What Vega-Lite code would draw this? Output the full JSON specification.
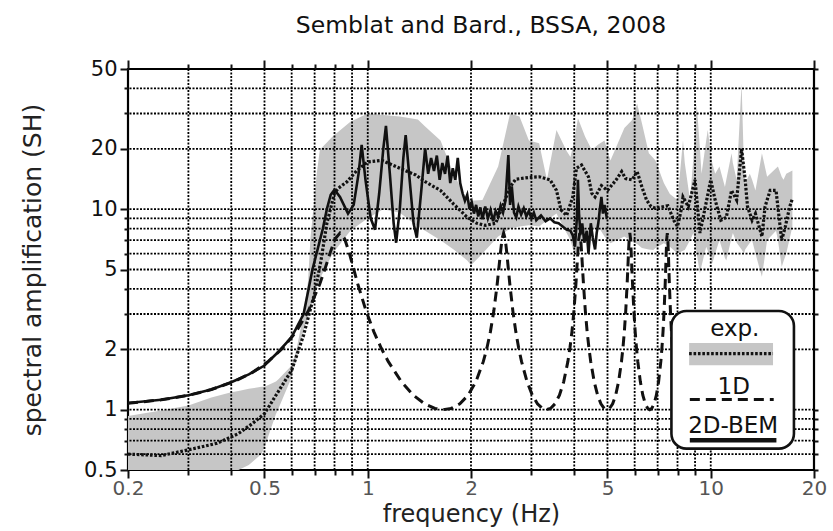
{
  "$schema": "https://vega.github.io/schema/vega-lite/v6.json",
  "width": 686,
  "height": 401,
  "autosize": {"type": "none"},
  "padding": {"left": 128, "top": 69, "right": 19, "bottom": 61},
  "background": "white",
  "title": {"text": "Semblat and Bard., BSSA,  2008", "font": "DejaVu Sans", "fontSize": 23.5, "fontWeight": "normal", "color": "#111111", "anchor": "middle", "dx": 10, "baseline": "alphabetic", "offset": 2},
  "config": {
    "view": {"stroke": "black", "strokeWidth": 2.2},
    "axis": {"grid": false, "domain": false, "tickColor": "#111111", "tickWidth": 2, "labelFont": "DejaVu Sans", "titleFont": "DejaVu Sans", "titleFontWeight": "normal", "labelOverlap": false, "labelFlush": false, "labelBound": false}
  },
  "datasets": {
    "band": [
      {"f": 0.2, "lo": 0.45, "hi": 0.93}, {"f": 0.25, "lo": 0.45, "hi": 0.99}, {"f": 0.3, "lo": 0.45, "hi": 1.05}, {"f": 0.35, "lo": 0.45, "hi": 1.15}, {"f": 0.4, "lo": 0.46, "hi": 1.22}, {"f": 0.42, "lo": 0.5, "hi": 1.24}, {"f": 0.45, "lo": 0.53, "hi": 1.27}, {"f": 0.49, "lo": 0.6, "hi": 1.3}, {"f": 0.5, "lo": 0.65, "hi": 1.3}, {"f": 0.54, "lo": 0.95, "hi": 1.38}, {"f": 0.55, "lo": 1.02, "hi": 1.42}, {"f": 0.6, "lo": 1.45, "hi": 1.66}, {"f": 0.62, "lo": 1.8, "hi": 2.0}, {"f": 0.65, "lo": 2.5, "hi": 3.0}, {"f": 0.67, "lo": 2.9, "hi": 4.4}, {"f": 0.68, "lo": 3.1, "hi": 7.0}, {"f": 0.71, "lo": 4.1, "hi": 15}, {"f": 0.725, "lo": 4.5, "hi": 19.8}, {"f": 0.79, "lo": 6.0, "hi": 23}, {"f": 0.89, "lo": 7.8, "hi": 27.3}, {"f": 1.0, "lo": 9.0, "hi": 30}, {"f": 1.11, "lo": 10.0, "hi": 29.5}, {"f": 1.24, "lo": 9.6, "hi": 29}, {"f": 1.4, "lo": 8.2, "hi": 28}, {"f": 1.47, "lo": 7.8, "hi": 25.8}, {"f": 1.63, "lo": 7.0, "hi": 22}, {"f": 1.78, "lo": 6.3, "hi": 15}, {"f": 1.95, "lo": 5.55, "hi": 11.1}, {"f": 2.0, "lo": 5.25, "hi": 11.0}, {"f": 2.16, "lo": 6.0, "hi": 11.1}, {"f": 2.4, "lo": 7.3, "hi": 16.3}, {"f": 2.6, "lo": 8.0, "hi": 30}, {"f": 2.77, "lo": 8.2, "hi": 29}, {"f": 2.95, "lo": 8.3, "hi": 22}, {"f": 3.16, "lo": 8.2, "hi": 21.3}, {"f": 3.33, "lo": 8.8, "hi": 14}, {"f": 3.55, "lo": 9.5, "hi": 24.8}, {"f": 3.8, "lo": 7.6, "hi": 19.5}, {"f": 3.9, "lo": 7.0, "hi": 18.2}, {"f": 4.0, "lo": 6.0, "hi": 22}, {"f": 4.1, "lo": 6.4, "hi": 28.4}, {"f": 4.3, "lo": 7.3, "hi": 23}, {"f": 4.5, "lo": 7.8, "hi": 19.7}, {"f": 4.7, "lo": 8.2, "hi": 21}, {"f": 4.9, "lo": 7.3, "hi": 22}, {"f": 5.1, "lo": 6.75, "hi": 17.5}, {"f": 5.6, "lo": 7.3, "hi": 25.4}, {"f": 5.9, "lo": 6.9, "hi": 27.8}, {"f": 6.1, "lo": 6.7, "hi": 33.6}, {"f": 6.3, "lo": 6.4, "hi": 26.8}, {"f": 6.6, "lo": 6.3, "hi": 19}, {"f": 6.8, "lo": 6.25, "hi": 18}, {"f": 6.9, "lo": 6.4, "hi": 17.5}, {"f": 7.3, "lo": 6.75, "hi": 13.5}, {"f": 7.6, "lo": 6.5, "hi": 11.9}, {"f": 8.0, "lo": 6.0, "hi": 11.1}, {"f": 8.3, "lo": 6.2, "hi": 22}, {"f": 8.4, "lo": 6.25, "hi": 17}, {"f": 8.7, "lo": 7.0, "hi": 11.1}, {"f": 8.9, "lo": 7.6, "hi": 18}, {"f": 9.1, "lo": 6.0, "hi": 33.6}, {"f": 9.3, "lo": 4.77, "hi": 20}, {"f": 9.4, "lo": 5.2, "hi": 15}, {"f": 9.7, "lo": 6.5, "hi": 22}, {"f": 9.8, "lo": 6.2, "hi": 24.8}, {"f": 10.1, "lo": 5.35, "hi": 17}, {"f": 10.3, "lo": 6.0, "hi": 15}, {"f": 10.6, "lo": 7.0, "hi": 16.3}, {"f": 11.0, "lo": 5.7, "hi": 12.9}, {"f": 11.1, "lo": 5.55, "hi": 14}, {"f": 11.5, "lo": 7.2, "hi": 19}, {"f": 11.6, "lo": 7.6, "hi": 17}, {"f": 11.9, "lo": 6.8, "hi": 14}, {"f": 12.3, "lo": 6.3, "hi": 42.4}, {"f": 12.5, "lo": 6.0, "hi": 16}, {"f": 12.6, "lo": 6.3, "hi": 13.5}, {"f": 13.0, "lo": 6.8, "hi": 15}, {"f": 13.2, "lo": 7.0, "hi": 14}, {"f": 13.5, "lo": 6.0, "hi": 12.4}, {"f": 14.1, "lo": 4.6, "hi": 19}, {"f": 14.6, "lo": 7.0, "hi": 14.5}, {"f": 15.5, "lo": 7.8, "hi": 16}, {"f": 15.7, "lo": 7.0, "hi": 16.3}, {"f": 16.1, "lo": 5.15, "hi": 14.5}, {"f": 16.3, "lo": 5.5, "hi": 14}, {"f": 16.6, "lo": 6.0, "hi": 15}, {"f": 17.3, "lo": 8.2, "hi": 15.6}
    ],
    "mean": [
      {"f": 0.2, "a": 0.6}, {"f": 0.25, "a": 0.59}, {"f": 0.3, "a": 0.63}, {"f": 0.364, "a": 0.68}, {"f": 0.42, "a": 0.76}, {"f": 0.46, "a": 0.85}, {"f": 0.5, "a": 0.955}, {"f": 0.54, "a": 1.18}, {"f": 0.6, "a": 1.57}, {"f": 0.65, "a": 2.35}, {"f": 0.7, "a": 3.8}, {"f": 0.73, "a": 5.5}, {"f": 0.76, "a": 8.5}, {"f": 0.8, "a": 12.0}, {"f": 0.82, "a": 12.7}, {"f": 0.87, "a": 13.7}, {"f": 0.93, "a": 15.6}, {"f": 1.0, "a": 17.2}, {"f": 1.1, "a": 17.5}, {"f": 1.24, "a": 16}, {"f": 1.38, "a": 14.8}, {"f": 1.47, "a": 13.7}, {"f": 1.63, "a": 12.4}, {"f": 1.78, "a": 10.6}, {"f": 1.95, "a": 9.1}, {"f": 2.08, "a": 8.5}, {"f": 2.2, "a": 8.3}, {"f": 2.36, "a": 8.5}, {"f": 2.47, "a": 10.3}, {"f": 2.6, "a": 12.9}, {"f": 2.7, "a": 14.1}, {"f": 2.96, "a": 14.4}, {"f": 3.16, "a": 14.5}, {"f": 3.4, "a": 14.0}, {"f": 3.55, "a": 12.4}, {"f": 3.66, "a": 9.9}, {"f": 3.8, "a": 9.3}, {"f": 3.96, "a": 11.5}, {"f": 4.06, "a": 16}, {"f": 4.2, "a": 16.6}, {"f": 4.4, "a": 14.5}, {"f": 4.5, "a": 12.0}, {"f": 4.6, "a": 11.5}, {"f": 4.8, "a": 13.1}, {"f": 5.0, "a": 12.4}, {"f": 5.3, "a": 14}, {"f": 5.5, "a": 15.4}, {"f": 5.65, "a": 14.2}, {"f": 5.9, "a": 14}, {"f": 6.1, "a": 15.4}, {"f": 6.3, "a": 12.9}, {"f": 6.5, "a": 11.1}, {"f": 6.7, "a": 10.3}, {"f": 6.9, "a": 10.1}, {"f": 7.3, "a": 10.3}, {"f": 7.5, "a": 10.4}, {"f": 7.8, "a": 8.8}, {"f": 8.0, "a": 8.2}, {"f": 8.2, "a": 9.9}, {"f": 8.3, "a": 11.5}, {"f": 8.6, "a": 10.3}, {"f": 9.0, "a": 14}, {"f": 9.3, "a": 7.6}, {"f": 9.6, "a": 9.9}, {"f": 10.0, "a": 14}, {"f": 10.3, "a": 11.1}, {"f": 10.7, "a": 8.8}, {"f": 11.1, "a": 9.1}, {"f": 11.5, "a": 12.4}, {"f": 11.9, "a": 11.1}, {"f": 12.3, "a": 20.0}, {"f": 12.6, "a": 14}, {"f": 12.8, "a": 10.3}, {"f": 13.2, "a": 8.8}, {"f": 13.5, "a": 9.5}, {"f": 14.1, "a": 7.3}, {"f": 14.4, "a": 10.3}, {"f": 14.9, "a": 12.4}, {"f": 15.5, "a": 12.4}, {"f": 16.1, "a": 7.0}, {"f": 16.5, "a": 8.2}, {"f": 17.0, "a": 10.3}, {"f": 17.3, "a": 11.3}
    ],
    "bem": [
      {"f": 0.2, "a": 1.08}, {"f": 0.25, "a": 1.12}, {"f": 0.3, "a": 1.18}, {"f": 0.35, "a": 1.26}, {"f": 0.4, "a": 1.37}, {"f": 0.45, "a": 1.5}, {"f": 0.5, "a": 1.66}, {"f": 0.55, "a": 1.95}, {"f": 0.6, "a": 2.3}, {"f": 0.65, "a": 3.0}, {"f": 0.69, "a": 5.0}, {"f": 0.74, "a": 8.0}, {"f": 0.76, "a": 10}, {"f": 0.78, "a": 11.8}, {"f": 0.8, "a": 12.5}, {"f": 0.83, "a": 11.5}, {"f": 0.876, "a": 9.5}, {"f": 0.91, "a": 10.5}, {"f": 0.94, "a": 15}, {"f": 0.96, "a": 20.9}, {"f": 0.985, "a": 14}, {"f": 1.02, "a": 9}, {"f": 1.05, "a": 7.9}, {"f": 1.08, "a": 12}, {"f": 1.11, "a": 20}, {"f": 1.13, "a": 26}, {"f": 1.16, "a": 15}, {"f": 1.19, "a": 8.5}, {"f": 1.21, "a": 6.8}, {"f": 1.24, "a": 10}, {"f": 1.27, "a": 18}, {"f": 1.29, "a": 23.4}, {"f": 1.32, "a": 15}, {"f": 1.36, "a": 8.5}, {"f": 1.39, "a": 7.2}, {"f": 1.43, "a": 12}, {"f": 1.47, "a": 20.1}, {"f": 1.5, "a": 15}, {"f": 1.53, "a": 18}, {"f": 1.56, "a": 15.5}, {"f": 1.59, "a": 18.5}, {"f": 1.62, "a": 14}, {"f": 1.65, "a": 17}, {"f": 1.68, "a": 15}, {"f": 1.71, "a": 18.5}, {"f": 1.74, "a": 13.5}, {"f": 1.77, "a": 16}, {"f": 1.8, "a": 14}, {"f": 1.83, "a": 18}, {"f": 1.86, "a": 13.5}, {"f": 1.89, "a": 12}, {"f": 1.92, "a": 11}, {"f": 1.95, "a": 11.8}, {"f": 1.98, "a": 10}, {"f": 2.01, "a": 10.8}, {"f": 2.04, "a": 9.5}, {"f": 2.07, "a": 10.5}, {"f": 2.1, "a": 9.2}, {"f": 2.13, "a": 10.2}, {"f": 2.16, "a": 8.9}, {"f": 2.2, "a": 10.3}, {"f": 2.24, "a": 9.0}, {"f": 2.28, "a": 9.9}, {"f": 2.32, "a": 8.7}, {"f": 2.36, "a": 9.8}, {"f": 2.4, "a": 9.2}, {"f": 2.44, "a": 10.4}, {"f": 2.48, "a": 9.6}, {"f": 2.52, "a": 11}, {"f": 2.57, "a": 18.6}, {"f": 2.6, "a": 10.5}, {"f": 2.63, "a": 13}, {"f": 2.67, "a": 9.6}, {"f": 2.71, "a": 9.1}, {"f": 2.75, "a": 10.3}, {"f": 2.8, "a": 9.4}, {"f": 2.85, "a": 10.1}, {"f": 2.9, "a": 9.2}, {"f": 2.95, "a": 9.8}, {"f": 3.0, "a": 9.0}, {"f": 3.05, "a": 9.6}, {"f": 3.1, "a": 8.8}, {"f": 3.2, "a": 9.3}, {"f": 3.3, "a": 8.7}, {"f": 3.4, "a": 9.0}, {"f": 3.5, "a": 8.6}, {"f": 3.6, "a": 8.5}, {"f": 3.7, "a": 8.2}, {"f": 3.8, "a": 7.9}, {"f": 3.9, "a": 7.8}, {"f": 3.96, "a": 7.4}, {"f": 4.02, "a": 6.5}, {"f": 4.07, "a": 9}, {"f": 4.1, "a": 14}, {"f": 4.13, "a": 9.5}, {"f": 4.17, "a": 7.5}, {"f": 4.22, "a": 8.5}, {"f": 4.28, "a": 6.8}, {"f": 4.35, "a": 7.8}, {"f": 4.4, "a": 6.0}, {"f": 4.47, "a": 8.5}, {"f": 4.53, "a": 7.2}, {"f": 4.6, "a": 6.3}, {"f": 4.65, "a": 7.6}, {"f": 4.7, "a": 8.5}, {"f": 4.75, "a": 10}, {"f": 4.8, "a": 11.5}, {"f": 4.85, "a": 9.5}, {"f": 4.9, "a": 10.5}, {"f": 4.98, "a": 9.0}
    ],
    "oned": [
      {"f": 0.2, "a": 1.075}, {"f": 0.25, "a": 1.12}, {"f": 0.3016, "a": 1.18}, {"f": 0.35, "a": 1.26}, {"f": 0.4073, "a": 1.38}, {"f": 0.4601, "a": 1.53}, {"f": 0.513, "a": 1.74}, {"f": 0.5658, "a": 2.03}, {"f": 0.6187, "a": 2.45}, {"f": 0.6715, "a": 3.11}, {"f": 0.7243, "a": 4.22}, {"f": 0.7508, "a": 5.05}, {"f": 0.7772, "a": 6.07}, {"f": 0.8036, "a": 7.11}, {"f": 0.83, "a": 7.6}, {"f": 0.8564, "a": 7.11}, {"f": 0.8829, "a": 6.07}, {"f": 0.9093, "a": 5.05}, {"f": 0.9357, "a": 4.22}, {"f": 0.9885, "a": 3.11}, {"f": 1.0414, "a": 2.45}, {"f": 1.0942, "a": 2.03}, {"f": 1.1471, "a": 1.74}, {"f": 1.2527, "a": 1.38}, {"f": 1.3584, "a": 1.18}, {"f": 1.4641, "a": 1.07}, {"f": 1.5698, "a": 1.014}, {"f": 1.66, "a": 1.0},
      {"f": 1.7503, "a": 1.014}, {"f": 1.856, "a": 1.07}, {"f": 1.9616, "a": 1.18}, {"f": 2.0673, "a": 1.38}, {"f": 2.173, "a": 1.74}, {"f": 2.2258, "a": 2.03}, {"f": 2.2787, "a": 2.45}, {"f": 2.3315, "a": 3.11}, {"f": 2.3844, "a": 4.22}, {"f": 2.4108, "a": 5.05}, {"f": 2.4372, "a": 6.07}, {"f": 2.4636, "a": 7.11}, {"f": 2.49, "a": 7.6}, {"f": 2.5165, "a": 7.11}, {"f": 2.5429, "a": 6.07}, {"f": 2.5693, "a": 5.05}, {"f": 2.5957, "a": 4.22}, {"f": 2.6486, "a": 3.11}, {"f": 2.7014, "a": 2.45}, {"f": 2.7542, "a": 2.03}, {"f": 2.8071, "a": 1.74}, {"f": 2.9128, "a": 1.38}, {"f": 3.0184, "a": 1.18}, {"f": 3.1241, "a": 1.07}, {"f": 3.2298, "a": 1.014}, {"f": 3.32, "a": 1.0},
      {"f": 3.4103, "a": 1.014}, {"f": 3.516, "a": 1.07}, {"f": 3.6217, "a": 1.18}, {"f": 3.7273, "a": 1.38}, {"f": 3.833, "a": 1.74}, {"f": 3.8859, "a": 2.03}, {"f": 3.9387, "a": 2.45}, {"f": 3.9915, "a": 3.11}, {"f": 4.0444, "a": 4.22}, {"f": 4.0708, "a": 5.05}, {"f": 4.0972, "a": 6.07}, {"f": 4.1236, "a": 7.11}, {"f": 4.15, "a": 7.6}, {"f": 4.1765, "a": 7.11}, {"f": 4.2029, "a": 6.07}, {"f": 4.2293, "a": 5.05}, {"f": 4.2557, "a": 4.22}, {"f": 4.3086, "a": 3.11}, {"f": 4.3614, "a": 2.45}, {"f": 4.4143, "a": 2.03}, {"f": 4.4671, "a": 1.74}, {"f": 4.5728, "a": 1.38}, {"f": 4.6785, "a": 1.18}, {"f": 4.7841, "a": 1.07}, {"f": 4.8898, "a": 1.014}, {"f": 4.98, "a": 1.0},
      {"f": 5.0703, "a": 1.014}, {"f": 5.176, "a": 1.07}, {"f": 5.2817, "a": 1.18}, {"f": 5.3874, "a": 1.38}, {"f": 5.493, "a": 1.74}, {"f": 5.5459, "a": 2.03}, {"f": 5.5987, "a": 2.45}, {"f": 5.6516, "a": 3.11}, {"f": 5.7044, "a": 4.22}, {"f": 5.7308, "a": 5.05}, {"f": 5.7572, "a": 6.07}, {"f": 5.7837, "a": 7.11}, {"f": 5.81, "a": 7.6}, {"f": 5.8365, "a": 7.11}, {"f": 5.8629, "a": 6.07}, {"f": 5.8893, "a": 5.05}, {"f": 5.9158, "a": 4.22}, {"f": 5.9686, "a": 3.11}, {"f": 6.0214, "a": 2.45}, {"f": 6.0743, "a": 2.03}, {"f": 6.1271, "a": 1.74}, {"f": 6.2328, "a": 1.38}, {"f": 6.3385, "a": 1.18}, {"f": 6.4441, "a": 1.07}, {"f": 6.5498, "a": 1.014}, {"f": 6.64, "a": 1.0},
      {"f": 6.7303, "a": 1.014}, {"f": 6.836, "a": 1.07}, {"f": 6.9417, "a": 1.18}, {"f": 7.0474, "a": 1.38}, {"f": 7.153, "a": 1.74}, {"f": 7.2059, "a": 2.03}, {"f": 7.2587, "a": 2.45}, {"f": 7.3116, "a": 3.11}, {"f": 7.3644, "a": 4.22}, {"f": 7.3908, "a": 5.05}, {"f": 7.4173, "a": 6.07}, {"f": 7.4437, "a": 7.11}, {"f": 7.47, "a": 7.6}, {"f": 7.4965, "a": 7.11}, {"f": 7.5229, "a": 6.07}, {"f": 7.5493, "a": 5.05}, {"f": 7.5758, "a": 4.22}, {"f": 7.6286, "a": 3.11}, {"f": 7.6815, "a": 2.45}, {"f": 7.7343, "a": 2.03}, {"f": 7.7872, "a": 1.74}
    ],
    "gx": [{"v": 0.3}, {"v": 0.4}, {"v": 0.5}, {"v": 0.6}, {"v": 0.7}, {"v": 0.8}, {"v": 0.9}, {"v": 1}, {"v": 2}, {"v": 3}, {"v": 4}, {"v": 5}, {"v": 6}, {"v": 7}, {"v": 8}, {"v": 9}, {"v": 10}],
    "gy": [{"v": 0.6}, {"v": 0.7}, {"v": 0.8}, {"v": 0.9}, {"v": 1}, {"v": 2}, {"v": 3}, {"v": 4}, {"v": 5}, {"v": 6}, {"v": 7}, {"v": 8}, {"v": 9}, {"v": 10}, {"v": 20}, {"v": 30}, {"v": 40}],
    "one": [{"k": 1}]
  },
  "resolve": {"axis": {"x": "independent", "y": "independent"}},
  "layer": [
    {
      "data": {"name": "band"},
      "mark": {"type": "area", "color": "#c6c6c6", "clip": true},
      "encoding": {
        "x": {"field": "f", "type": "quantitative", "scale": {"type": "log", "domain": [0.2, 20], "nice": false},
          "axis": {"orient": "bottom", "title": "frequency (Hz)", "values": [0.2, 0.3, 0.4, 0.5, 0.6, 0.7, 0.8, 0.9, 1, 2, 3, 4, 5, 6, 7, 8, 9, 10, 20], "format": "~g",
            "labelExpr": "indexof([0.2, 0.5, 1, 2, 5, 10, 20], datum.value) >= 0 ? datum.label : ''",
            "tickSize": {"condition": {"test": "indexof([0.2, 0.5, 1, 2, 5, 10, 20], datum.value) >= 0", "value": 8}, "value": 5},
            "labelFontSize": 20, "labelColor": "#555555", "labelPadding": 0, "titleFontSize": 24, "titleColor": "#222222", "titlePadding": 4}},
        "y": {"field": "hi", "type": "quantitative", "scale": {"type": "log", "domain": [0.5, 50], "nice": false},
          "axis": {"orient": "left", "title": "spectral amplification (SH)", "values": [0.5, 0.6, 0.7, 0.8, 0.9, 1, 2, 3, 4, 5, 6, 7, 8, 9, 10, 20, 30, 40, 50], "format": "~g",
            "labelExpr": "indexof([0.5, 1, 2, 5, 10, 20, 50], datum.value) >= 0 ? datum.label : ''",
            "tickSize": {"condition": {"test": "indexof([0.5, 1, 2, 5, 10, 20, 50], datum.value) >= 0", "value": 8}, "value": 4},
            "labelFontSize": 21, "labelColor": "#111111", "labelPadding": 3, "titleFontSize": 25, "titleColor": "#222222", "titlePadding": 38}},
        "y2": {"field": "lo"}
      }
    },
    {
      "data": {"name": "gx"},
      "mark": {"type": "rule", "color": "#000000", "strokeWidth": 1.8, "strokeDash": [2, 1.5]},
      "encoding": {"x": {"field": "v", "type": "quantitative", "scale": {"type": "log", "domain": [0.2, 20], "nice": false}, "axis": null}}
    },
    {
      "data": {"name": "gy"},
      "mark": {"type": "rule", "color": "#000000", "strokeWidth": 1.8, "strokeDash": [2, 1.5]},
      "encoding": {"y": {"field": "v", "type": "quantitative", "scale": {"type": "log", "domain": [0.5, 50], "nice": false}, "axis": null}}
    },
    {
      "data": {"name": "mean"},
      "mark": {"type": "line", "color": "#111111", "strokeWidth": 3.2, "strokeDash": [2.6, 1.8], "clip": true},
      "encoding": {
        "x": {"field": "f", "type": "quantitative", "scale": {"type": "log", "domain": [0.2, 20], "nice": false},
          "axis": {"orient": "top", "title": null, "labels": false, "values": [0.2, 0.3, 0.4, 0.5, 0.6, 0.7, 0.8, 0.9, 1, 2, 3, 4, 5, 6, 7, 8, 9, 10, 20],
            "tickSize": {"condition": {"test": "indexof([0.2, 0.5, 1, 2, 5, 10, 20], datum.value) >= 0", "value": 9}, "value": 5}}},
        "y": {"field": "a", "type": "quantitative", "scale": {"type": "log", "domain": [0.5, 50], "nice": false},
          "axis": {"orient": "right", "title": null, "labels": false, "values": [0.5, 0.6, 0.7, 0.8, 0.9, 1, 2, 3, 4, 5, 6, 7, 8, 9, 10, 20, 30, 40, 50], "tickSize": 4}}
      }
    },
    {
      "data": {"name": "oned"},
      "mark": {"type": "line", "color": "#111111", "strokeWidth": 3, "strokeDash": [10, 6], "clip": true},
      "encoding": {
        "x": {"field": "f", "type": "quantitative", "scale": {"type": "log", "domain": [0.2, 20], "nice": false}, "axis": null},
        "y": {"field": "a", "type": "quantitative", "scale": {"type": "log", "domain": [0.5, 50], "nice": false}, "axis": null}
      }
    },
    {
      "data": {"name": "bem"},
      "mark": {"type": "line", "color": "#111111", "strokeWidth": 2.6, "clip": true},
      "encoding": {
        "x": {"field": "f", "type": "quantitative", "scale": {"type": "log", "domain": [0.2, 20], "nice": false}, "axis": null},
        "y": {"field": "a", "type": "quantitative", "scale": {"type": "log", "domain": [0.5, 50], "nice": false}, "axis": null}
      }
    },
    {
      "data": {"name": "one"},
      "mark": {"type": "rect", "fill": "white", "stroke": "#111111", "strokeWidth": 2.6, "cornerRadius": 15},
      "encoding": {
        "x": {"datum": 7.68, "type": "quantitative", "axis": null}, "x2": {"datum": 17.48},
        "y": {"datum": 3.107, "type": "quantitative", "axis": null}, "y2": {"datum": 0.639}
      }
    },
    {
      "data": {"name": "one"},
      "mark": {"type": "rect", "fill": "#c6c6c6"},
      "encoding": {
        "x": {"datum": 8.65, "type": "quantitative", "axis": null}, "x2": {"datum": 15.19},
        "y": {"datum": 2.15, "type": "quantitative", "axis": null}, "y2": {"datum": 1.664}
      }
    },
    {
      "data": {"name": "one"},
      "mark": {"type": "rule", "color": "#111111", "strokeWidth": 3.2, "strokeDash": [2.6, 1.8]},
      "encoding": {
        "x": {"datum": 8.65, "type": "quantitative", "axis": null}, "x2": {"datum": 15.19},
        "y": {"datum": 1.904, "type": "quantitative", "axis": null}
      }
    },
    {
      "data": {"name": "one"},
      "mark": {"type": "rule", "color": "#111111", "strokeWidth": 3, "strokeDash": [10, 6]},
      "encoding": {
        "x": {"datum": 8.69, "type": "quantitative", "axis": null}, "x2": {"datum": 15.26},
        "y": {"datum": 1.122, "type": "quantitative", "axis": null}
      }
    },
    {
      "data": {"name": "one"},
      "mark": {"type": "rule", "color": "#111111", "strokeWidth": 4.5},
      "encoding": {
        "x": {"datum": 8.69, "type": "quantitative", "axis": null}, "x2": {"datum": 15.54},
        "y": {"datum": 0.703, "type": "quantitative", "axis": null}
      }
    },
    {
      "data": {"name": "one"},
      "mark": {"type": "text", "text": "exp.", "font": "DejaVu Sans", "fontSize": 23, "color": "#111111", "align": "center", "baseline": "alphabetic"},
      "encoding": {"x": {"datum": 11.75, "type": "quantitative", "axis": null}, "y": {"datum": 2.323, "type": "quantitative", "axis": null}}
    },
    {
      "data": {"name": "one"},
      "mark": {"type": "text", "text": "1D", "font": "DejaVu Sans", "fontSize": 23, "color": "#111111", "align": "center", "baseline": "alphabetic"},
      "encoding": {"x": {"datum": 11.67, "type": "quantitative", "axis": null}, "y": {"datum": 1.202, "type": "quantitative", "axis": null}}
    },
    {
      "data": {"name": "one"},
      "mark": {"type": "text", "text": "2D-BEM", "font": "DejaVu Sans", "fontSize": 23, "color": "#111111", "align": "center", "baseline": "alphabetic"},
      "encoding": {"x": {"datum": 11.62, "type": "quantitative", "axis": null}, "y": {"datum": 0.764, "type": "quantitative", "axis": null}}
    }
  ]
}
